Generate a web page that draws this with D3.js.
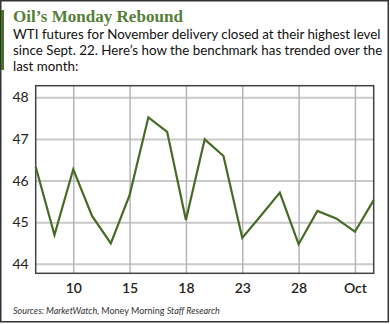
<!DOCTYPE html>
<html>
<head>
<meta charset="utf-8">
<script src="https://cdn.jsdelivr.net/npm/d3@7"></script>
<style>
  body { margin: 0; background: #fff; }
  svg { display: block; }
</style>
</head>
<body>
<div class="chart"></div>
<script>
// WTI close, one point per trading day (index on x)
const prices = [
  46.33, 44.69, 46.27, 45.15, 44.49, 45.65, 47.52, 47.17, 45.05, 46.99,
  46.59, 44.62, 45.16, 45.71, 44.47, 45.27, 45.09, 44.77, 45.53,
];
const xTickIdx = [2, 5, 8, 11, 14, 17];
const xTickLabels = ["10", "15", "18", "23", "28", "Oct"];
const yTicks = [44, 45, 46, 47, 48];
const subtitle = [
  "WTI futures for November delivery closed at their highest level",
  "since Sept. 22. Here\u2019s how the benchmark has trended over the",
  "last month:",
];

const width = 390;
const height = 324;
const plot = { left: 35.7, top: 85.7, right: 373.7, bottom: 273.3 };

const svg = d3
  .select(".chart")
  .append("svg")
  .attr("width", width)
  .attr("height", height);

// shrink font so the natural width fits the target
const fitFont = (sel, base, target) => {
  sel.attr("font-size", base);
  const w = sel.node().getComputedTextLength();
  sel.attr("font-size", (base * target) / w);
};

// outer frame + green accent bar
svg.append("rect")
  .attr("x", 0.75).attr("y", 0.75)
  .attr("width", 387.5).attr("height", 321)
  .attr("fill", "#fff")
  .attr("stroke", "#333")
  .attr("stroke-width", 1.5);
svg.append("rect")
  .attr("x", 1).attr("y", 10)
  .attr("width", 3).attr("height", 60)
  .attr("fill", "#4b6f2c");

const title = svg.append("text")
  .attr("x", 13).attr("y", 22)
  .attr("font-family", "'Liberation Serif', serif")
  .attr("font-weight", "bold")
  .attr("fill", "#56803a")
  .text("Oil\u2019s Monday Rebound");
fitFont(title, 18, 170);

const sub = svg.append("g")
  .attr("font-family", "Lato, sans-serif")
  .attr("fill", "#111");
const subLines = sub.selectAll("text")
  .data(subtitle)
  .join("text")
  .attr("x", 13)
  .attr("y", (d, i) => 38.5 + i * 16)
  .text((d) => d);
fitFont(subLines.filter((d, i) => i === 0), 14, 368);
subLines.attr("font-size", subLines.filter((d, i) => i === 0).attr("font-size"));

const x = d3
  .scaleLinear()
  .domain([0, prices.length - 1])
  .range([plot.left, plot.right]);
const y = d3
  .scaleLinear()
  .domain([43.77, 48.28])
  .range([plot.bottom, plot.top]);

const pw = plot.right - plot.left;
const ph = plot.bottom - plot.top;

// horizontal grid + y labels
const yAxis = svg
  .append("g")
  .attr("transform", `translate(${plot.left},0)`)
  .call(
    d3.axisLeft(y)
      .tickValues(yTicks)
      .tickFormat(d3.format("d"))
      .tickSize(-pw)
      .tickPadding(7)
  );
yAxis.select(".domain").remove();
yAxis.selectAll("line").attr("stroke", "#c9c9c9").attr("stroke-width", 2);
yAxis.selectAll("text")
  .attr("font-family", "Lato, sans-serif")
  .attr("font-size", 14)
  .attr("fill", "#222");

// vertical grid + x labels
const xAxis = svg
  .append("g")
  .attr("transform", `translate(0,${plot.bottom})`)
  .call(
    d3.axisBottom(x)
      .tickValues(xTickIdx)
      .tickFormat((d, i) => xTickLabels[i])
      .tickSize(-ph)
      .tickPadding(10)
  );
xAxis.select(".domain").remove();
xAxis.selectAll("line").attr("stroke", "#b5b5b5").attr("stroke-width", 1.5);
xAxis.selectAll("text")
  .attr("font-family", "Lato, sans-serif")
  .attr("font-size", 14)
  .attr("font-weight", 600)
  .attr("fill", "#222");

// plot frame
svg.append("rect")
  .attr("x", plot.left).attr("y", plot.top)
  .attr("width", pw).attr("height", ph)
  .attr("fill", "none")
  .attr("stroke", "#444")
  .attr("stroke-width", 1.5);

const line = d3
  .line()
  .x((d, i) => x(i))
  .y((d) => y(d));

svg.append("path")
  .datum(prices)
  .attr("fill", "none")
  .attr("stroke", "#466b27")
  .attr("stroke-width", 2.2)
  .attr("stroke-linejoin", "miter")
  .attr("d", line);

const src = svg.append("text")
  .attr("x", 13).attr("y", 314)
  .attr("font-family", "Lato, sans-serif")
  .attr("fill", "#333");
src.append("tspan").attr("font-style", "italic").text("Sources: MarketWatch, ");
src.append("tspan").text("Money Morning ");
src.append("tspan").attr("font-style", "italic").text("Staff Research");
fitFont(src, 10, 207);
</script>
</body>
</html>
